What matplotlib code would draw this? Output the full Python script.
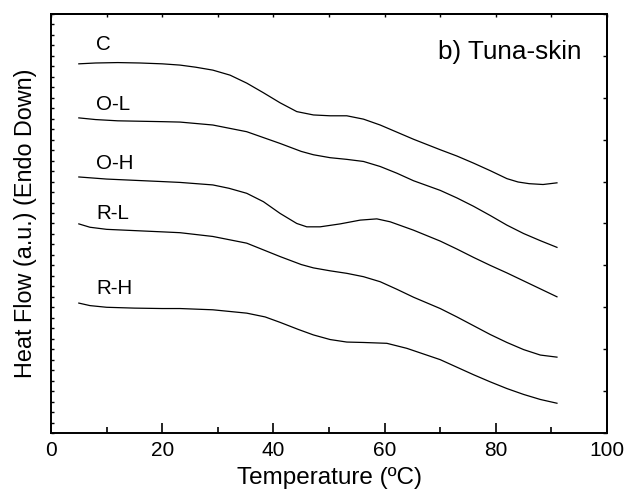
import matplotlib
matplotlib.use("Agg")
import matplotlib.pyplot as plt
from matplotlib.ticker import MultipleLocator

plt.rcParams['font.family'] = ['Liberation Sans', 'DejaVu Sans']

# temperatures (ºC) and heat-flow traces (arbitrary units)
t_c = [5, 8, 12, 16, 20, 23.2, 26, 29.1, 32.2, 35.2, 38.2, 41.2, 44.2, 47.2, 50.2, 53.2, 56.2, 59.2,
       62.2, 65.2, 70, 73, 76, 79, 82, 84, 86, 88.5, 91]
hf_c = [8.81, 8.83, 8.84, 8.83, 8.81, 8.78, 8.73, 8.66, 8.54, 8.35, 8.12, 7.88, 7.67, 7.59, 7.57, 7.57, 7.49, 7.35,
        7.18, 7.01, 6.76, 6.61, 6.44, 6.26, 6.07, 5.99, 5.95, 5.93, 5.97]

t_ol = [5, 8, 12, 16, 20, 23.2, 29.1, 35.2, 41.2, 45, 47.2, 50.2, 53.2, 56.2, 59.2, 62.2, 65.2,
        70, 73, 76, 79, 82, 85, 88, 91]
hf_ol = [7.52, 7.48, 7.45, 7.44, 7.43, 7.42, 7.35, 7.19, 6.91, 6.72, 6.64, 6.57, 6.53, 6.48, 6.36, 6.20, 6.02,
         5.79, 5.61, 5.41, 5.19, 4.96, 4.76, 4.59, 4.43]

t_oh = [5, 10, 15, 20, 23.2, 29.1, 32, 35.2, 38.2, 41.2, 44.2, 46, 48.4, 52, 55.6, 58.6, 61, 65.2,
        70, 73, 76, 79, 82, 85, 88, 91]
hf_oh = [6.11, 6.06, 6.03, 6.00, 5.98, 5.92, 5.84, 5.72, 5.52, 5.24, 5.00, 4.92, 4.92, 4.99, 5.08, 5.11, 5.04, 4.84,
         4.58, 4.39, 4.19, 4.00, 3.82, 3.63, 3.44, 3.25]

t_rl = [5, 7, 10, 15, 20, 23.2, 29.1, 35.2, 41.2, 45, 47.2, 50.2, 53.2, 56.2, 59.2, 62.2, 65.2,
        70, 73, 76, 79, 82, 85, 88, 91]
hf_rl = [4.99, 4.91, 4.86, 4.83, 4.80, 4.78, 4.69, 4.53, 4.21, 4.02, 3.94, 3.87, 3.81, 3.73, 3.61, 3.43, 3.24,
         2.97, 2.77, 2.56, 2.35, 2.16, 1.99, 1.86, 1.81]

t_rh = [5, 7, 10, 15, 20, 23.2, 29.1, 35.2, 38.5, 41.2, 44.5, 47.2, 50.2, 53.2, 56.2, 60.4, 64,
        70, 73, 76, 79, 82, 85, 88, 91]
hf_rh = [3.10, 3.04, 3.00, 2.98, 2.97, 2.97, 2.94, 2.86, 2.77, 2.64, 2.47, 2.34, 2.23, 2.17, 2.16, 2.14, 2.02,
         1.75, 1.57, 1.39, 1.22, 1.06, 0.92, 0.80, 0.71]

labels = ["C", "O-L", "O-H", "R-L", "R-H"]
label_y = [9.26, 7.83, 6.44, 5.25, 3.46]

fig = plt.figure(figsize=(6.3, 4.99), dpi=100)
ax = fig.add_axes([0.081, 0.1323, 0.8825, 0.8397])

for t, hf in [(t_c, hf_c), (t_ol, hf_ol), (t_oh, hf_oh), (t_rl, hf_rl), (t_rh, hf_rh)]:
    ax.plot(t, hf, color="black", lw=0.9)

for lab, ly in zip(labels, label_y):
    ax.text(8.1, ly, lab, fontsize=14.8, ha="left", va="center")

ax.text(95.5, 9.09, "b) Tuna-skin", fontsize=18.8, ha="right", va="center")

ax.set_xlim(0, 100)
ax.set_ylim(0, 10)
ax.xaxis.set_major_locator(MultipleLocator(20))
ax.xaxis.set_minor_locator(MultipleLocator(10))
ax.yaxis.set_major_locator(MultipleLocator(1))
ax.yaxis.set_minor_locator(MultipleLocator(0.25))
ax.tick_params(axis="x", which="major", direction="in", length=7, width=1.2, labelsize=15, pad=6)
ax.tick_params(axis="x", which="minor", direction="in", length=4, width=1.2)
ax.tick_params(axis="y", which="both", direction="in", length=2, width=1, labelleft=False)

top = ax.secondary_xaxis("top")
top.xaxis.set_major_locator(MultipleLocator(10))
top.tick_params(direction="in", length=2, width=1, labeltop=False)
right = ax.secondary_yaxis("right")
right.yaxis.set_major_locator(MultipleLocator(1))
right.tick_params(direction="in", length=3, width=1, labelright=False)

for sp in list(ax.spines.values()) + [top.spines["top"], right.spines["right"]]:
    sp.set_linewidth(1.4)

ax.set_xlabel("Temperature (ºC)", fontsize=17.5, labelpad=5)
ax.set_ylabel("Heat Flow (a.u.) (Endo Down)", fontsize=16.8, labelpad=10)

fig.savefig("out.png", dpi=100)
